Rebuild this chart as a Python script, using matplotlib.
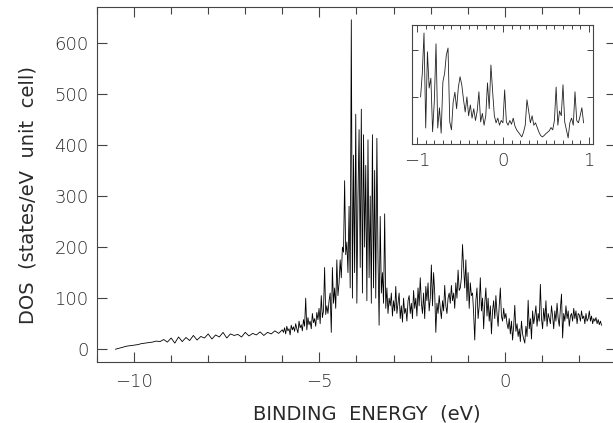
import numpy as np
import matplotlib
matplotlib.use("Agg")
import matplotlib.pyplot as plt
from matplotlib.ticker import MultipleLocator

# low-energy tail, 0.1 eV mesh from -10.5 to -6.0
dos_tail = [0, 2, 4, 6, 7, 8, 9, 11, 12, 13,
            14, 16, 15, 19, 14, 22, 12, 24, 15, 23,
            17, 27, 18, 25, 22, 30, 20, 28, 24, 33,
            22, 30, 27, 29, 24, 33, 26, 31, 28, 34,
            27, 33, 30, 36, 31, 38]
e_tail = np.linspace(-10.5, -6.0, len(dos_tail))

# valence band + Fermi region, 0.03 eV mesh from -5.97 to 2.61
dos_band = [33, 42, 30, 45, 36, 40, 28, 47, 38, 44,
            35, 50, 40, 32, 55, 42, 48, 36, 58, 45,
            100, 38, 62, 48, 55, 40, 70, 52, 60, 45,
            72, 58, 80, 50, 105, 62, 75, 160, 68, 85,
            70, 95, 110, 33, 160, 90, 120, 80, 175, 105,
            130, 175, 140, 200, 190, 330, 185, 210, 150, 280,
            120, 645, 100, 380, 150, 460, 90, 300, 430, 160,
            470, 110, 420, 200, 360, 95, 410, 140, 300, 90,
            420, 120, 350, 100, 413, 180, 47, 260, 110, 150,
            90, 265, 80, 120, 70, 100, 85, 110, 65, 95,
            75, 123, 70, 90, 110, 60, 85, 53, 100, 70,
            80, 55, 95, 105, 70, 90, 60, 115, 80, 100,
            65, 120, 85, 140, 90, 70, 110, 60, 123, 95,
            130, 75, 100, 165, 85, 150, 110, 33, 90, 70,
            105, 80, 60, 95, 75, 125, 85, 70, 100, 110,
            90, 125, 95, 110, 80, 130, 100, 155, 115, 120,
            140, 205, 160, 120, 175, 95, 150, 80, 130, 105,
            110, 70, 18, 95, 120, 60, 85, 140, 75, 100,
            40, 90, 120, 65, 100, 55, 85, 30, 75, 95,
            60, 105, 70, 45, 85, 120, 65, 55, 80, 60,
            70, 50, 40, 60, 30, 55, 18, 45, 86, 35,
            50, 25, 40, 15, 55, 30, 20, 12, 45, 25,
            96, 40, 60, 20, 75, 50, 65, 85, 45, 70,
            55, 127, 60, 40, 80, 55, 95, 45, 70, 60,
            50, 85, 65, 40, 75, 55, 90, 60, 45, 80,
            108, 22, 70, 55, 85, 60, 75, 45, 65, 70,
            55, 80, 60, 75, 50, 70, 67, 55, 75, 60,
            65, 50, 70, 55, 60, 75, 55, 65, 50, 60,
            55, 62, 50, 58, 48, 55, 47]
e_band = np.linspace(-5.97, 2.61, len(dos_band))

# inset: zoom around E_F, 0.02 eV mesh from -0.96 to 0.94
dos_zoom = [100, 150, 236, 34, 196, 119, 140, 26, 90, 213,
            34, 77, 23, 132, 150, 189, 204, 47, 30, 89,
            110, 75, 120, 143, 126, 95, 68, 100, 60, 83,
            55, 75, 50, 70, 111, 47, 65, 40, 60, 130,
            75, 168, 111, 60, 45, 55, 40, 50, 45, 115,
            47, 40, 50, 42, 55, 38, 30, 25, 20, 15,
            25, 40, 94, 70, 45, 60, 40, 45, 35, 25,
            18, 15, 18, 22, 25, 28, 35, 30, 50, 121,
            40, 70, 60, 126, 47, 30, 13, 45, 55, 40,
            111, 50, 45, 60, 77, 45]
e_zoom = np.linspace(-0.96, 0.94, len(dos_zoom))

energy = np.concatenate([e_tail, e_band])
dos = np.concatenate([dos_tail, dos_band])

plt.rcParams['font.family'] = 'DejaVu Sans'
plt.rcParams['font.weight'] = 200
txt = '#2a2a2a'

fig = plt.figure(figsize=(6.13, 4.23), dpi=100)
ax = fig.add_axes([0.1582, 0.1442, 0.8467, 0.8392])
ax.plot(energy, dos, color='black', lw=0.6)
ax.set_xlim(-11, 3)
ax.set_ylim(-25, 670)
ax.xaxis.set_major_locator(MultipleLocator(5))
ax.xaxis.set_minor_locator(MultipleLocator(1))
ax.yaxis.set_major_locator(MultipleLocator(100))
ax.tick_params(which='both', direction='in', top=True, right=True,
               colors='#444444', labelcolor=txt, labelsize=13, width=0.8)
ax.tick_params(axis='x', which='major', length=7, pad=8)
ax.tick_params(axis='x', which='minor', length=5)
ax.tick_params(axis='y', which='major', length=7, pad=6)
for s in ax.spines.values():
    s.set_linewidth(0.8)
    s.set_color('#444444')
ax.set_xlabel('BINDING  ENERGY  (eV)', fontsize=14, color=txt)
ax.set_ylabel('DOS  (states/eV  unit  cell)', fontsize=14, color=txt)
ax.xaxis.set_label_coords(0.52, -0.12)
ax.yaxis.set_label_coords(-0.115, 0.47)

ins = fig.add_axes([0.6721, 0.6596, 0.2953, 0.2813])
ins.plot(e_zoom, dos_zoom, color='#222222', lw=0.6)
ins.set_xlim(-1.06, 1.05)
ins.set_ylim(0, 253)
ins.xaxis.set_major_locator(MultipleLocator(1))
ins.xaxis.set_minor_locator(MultipleLocator(0.1))
ins.yaxis.set_major_locator(MultipleLocator(100))
ins.tick_params(which='both', direction='in', top=True, right=True,
                colors='#444444', labelcolor=txt, labelsize=13, width=0.7)
ins.tick_params(axis='x', which='major', length=5, pad=6)
ins.tick_params(axis='x', which='minor', length=3)
ins.tick_params(axis='y', length=4, labelleft=False)
for s in ins.spines.values():
    s.set_linewidth(0.8)
    s.set_color('#444444')

fig.savefig('out.png', dpi=100)
